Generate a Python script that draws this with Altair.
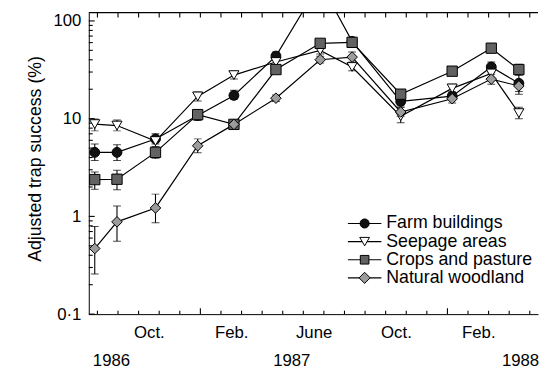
import math
import altair as alt
import pandas as pd

# ---------------- data ----------------
series = ["Farm buildings", "Seepage areas", "Crops and pasture", "Natural woodland"]
# sampling occasions, in months counted from 1 Jan 1987
months = [-5.13, -4.05, -2.18, -0.13, 1.63, 3.67, 5.82, 7.37, 9.73, 12.23, 14.13, 15.47]

farm = [4.52, 4.52, 6.2, 10.8, 17.3, 43.7, 246, 61.8, 15.0, 17.0, 33.8, 23.0]
farm_lo = [3.73, 3.73, 5.5, 9.6, 15.8, 40, 220, 56, 13.5, 15.5, 30, 17.8]
farm_hi = [5.5, 5.4, 7.0, 12.2, 19.5, 48, 275, 67, 16.8, 18.8, 38, 28]

seep = [8.8, 8.5, 5.9, 16.9, 27.9, 38, 49.9, 33.8, 10.6, 20.4, 29, 11.4]
seep_lo = [7.5, 7.5, 5.2, 15.2, 25.5, 35, 46, 31, 9.1, 18.5, 26.5, 10.0]
seep_hi = [9.9, 9.7, 6.6, 18.7, 30.5, 41, 54, 37, 12.0, 22.5, 31.5, 13.1]

crops = [2.38, 2.4, 4.52, 11.0, 8.74, 31.8, 59, 60.4, 17.8, 30.6, 52.6, 31.8]
crops_lo = [1.9, 1.87, 3.9, 10.0, 8.0, 29, 54, 55, 16.2, 28, 48, 28]
crops_hi = [2.85, 2.97, 5.0, 12.2, 9.6, 35, 64, 66, 19.5, 33.5, 57, 36]

wood = [0.469, 0.879, 1.22, 5.28, 8.74, 16.2, 40.1, 42.7, 11.7, 16.0, 25.4, 21.6]
wood_lo = [0.258, 0.556, 0.863, 4.49, 8.0, 15.0, 37, 38, 10.6, 14.5, 22.5, 19.0]
wood_hi = [0.787, 1.28, 1.69, 6.21, 9.6, 17.5, 43.5, 48, 13.0, 17.6, 28.5, 24.5]

month_label_pos = [-2.5, 1.5, 5.5, 9.5, 13.5]
month_labels = ["Oct.", "Feb.", "June", "Oct.", "Feb."]
year_labels = ["1986", "1987", "1988"]
year_label_pos = [-4.32, 4.44, 15.55]
y_tick_values = [0.1, 1, 10, 100]
y_tick_labels = ["0·1", "1", "10", "100"]
y_minor = [f * 10 ** e for e in (-1, 0, 1) for f in range(2, 10)]
month_ticks = list(range(-5, 17))
year_ticks = [0, 12]

# ---------------- styling ----------------
shapes = ["circle", "triangle-down", "square", "diamond"]
fills = ["#111111", "#ffffff", "#626262", "#9c9c9c"]
sizes = [100, 115, 90, 150]
FONT = "Liberation Sans"
W, H = 456, 306
XDOM = [-5.42, 16.4]
YDOM = [0.1, 121.5]
PX_MONTH = W / (XDOM[1] - XDOM[0])
PX_DEC = H / math.log10(YDOM[1] / YDOM[0])

vals = [farm, seep, crops, wood]
los = [farm_lo, seep_lo, crops_lo, wood_lo]
his = [farm_hi, seep_hi, crops_hi, wood_hi]
rows = []
for s, v, lo, hi in zip(series, vals, los, his):
    for m, a, b, c in zip(months, v, lo, hi):
        rows.append({"s": s, "m": m, "v": a, "lo": b, "hi": c})
df = pd.DataFrame(rows)

xscale = alt.Scale(domain=XDOM, nice=False, zero=False)
yscale = alt.Scale(type="log", domain=YDOM, nice=False)

xaxis = alt.Axis(
    values=month_label_pos,
    labelExpr="%s[indexof(%s, datum.value)]" % (str(month_labels), str(month_label_pos)),
    ticks=False, tickSize=0, grid=False, labelPadding=19, labelBaseline="middle",
    domainColor="black", domainWidth=1, labelFlush=False,
)
yaxis = alt.Axis(
    values=y_tick_values,
    labelExpr="%s[indexof(%s, datum.value)]" % (str(y_tick_labels), str(y_tick_values)),
    ticks=False, tickSize=0, grid=False, labelPadding=8,
    domainColor="black", domainWidth=1,
    titleX=-54, titleY=148, titleAngle=-90, titleAlign="center", titleBaseline="middle",
    labelFlush=False,
)
YTITLE = "Adjusted trap success (%)"


def X(f):
    return alt.X(f, type="quantitative", scale=xscale, axis=xaxis, title=None)


def Y(f):
    return alt.Y(f, type="quantitative", scale=yscale, axis=yaxis, title=YTITLE)


# inward axis ticks as one long table: tick lengths (px) converted to scale units
def xlen(px):
    return XDOM[0] + px / PX_MONTH


def yup(px):
    return YDOM[0] * 10 ** (px / PX_DEC)


def ydown(px):
    return YDOM[1] / 10 ** (px / PX_DEC)


vt = []  # vertical ticks: x, y0, y1
for t in month_ticks:
    vt.append({"x": t, "y0": YDOM[0], "y1": yup(6 if t in year_ticks else 3.5)})
    vt.append({"x": t, "y0": YDOM[1], "y1": ydown(5)})
ht = []  # horizontal ticks: y, x0, x1
for t in y_tick_values:
    ht.append({"y": t, "x0": XDOM[0], "x1": xlen(6)})
for t in y_minor:
    ht.append({"y": t, "x0": XDOM[0], "x1": xlen(4)})
ht.append({"y": YDOM[1], "x0": XDOM[0], "x1": XDOM[1]})  # top frame line

vticks = alt.Chart(pd.DataFrame(vt)).mark_rule(color="black", strokeWidth=1.1).encode(
    x=X("x"), y=Y("y0"), y2="y1"
)
hticks = alt.Chart(pd.DataFrame(ht)).mark_rule(color="black", strokeWidth=1.1).encode(
    y=Y("y"), x=X("x0"), x2="x1"
)

base = alt.Chart(df)
lines = base.mark_line(color="black", strokeWidth=1.2, clip=True).encode(
    x=X("m"), y=Y("v"), detail="s:N"
)
err = base.mark_rule(color="black", strokeWidth=1.1, clip=True).encode(
    x=X("m"), y=Y("lo"), y2="hi"
)
cap_lo = base.mark_tick(color="black", orient="horizontal", size=8, thickness=1, clip=True).encode(
    x=X("m"), y=Y("lo")
)
cap_hi = base.mark_tick(color="black", orient="horizontal", size=8, thickness=1, clip=True).encode(
    x=X("m"), y=Y("hi")
)
pts = base.mark_point(filled=True, stroke="black", strokeWidth=1, opacity=1, clip=True).encode(
    x=X("m"), y=Y("v"),
    shape=alt.Shape("s:N", scale=alt.Scale(domain=series, range=shapes), legend=None),
    fill=alt.Fill("s:N", scale=alt.Scale(domain=series, range=fills), legend=None),
    size=alt.Size("s:N", scale=alt.Scale(domain=series, range=sizes), legend=None),
)

years = alt.Chart(pd.DataFrame({"t": year_label_pos, "lab": year_labels})).mark_text(
    font=FONT, fontSize=17, color="black", baseline="middle", align="center"
).encode(x=X("t"), y=alt.value(354), text="lab:N")

# legend
legend_layers = []
ly0, dly = 214, 18.4
for i, s in enumerate(series):
    ly = ly0 + i * dly
    d = pd.DataFrame({"s": [s]})
    legend_layers.append(
        alt.Chart(d).mark_rule(color="black", strokeWidth=1.2).encode(
            x=alt.value(263), x2=alt.value(297), y=alt.value(ly)
        )
    )
    legend_layers.append(
        alt.Chart(d).mark_point(filled=True, shape=shapes[i], fill=fills[i], stroke="black",
                                strokeWidth=1, size=sizes[i] * 0.85, opacity=1).encode(
            x=alt.value(280), y=alt.value(ly)
        )
    )
    legend_layers.append(
        alt.Chart(d).mark_text(font=FONT, fontSize=18, color="black", align="left",
                               baseline="middle").encode(
            x=alt.value(302), y=alt.value(ly), text="s:N"
        )
    )

chart = alt.layer(
    vticks, hticks, lines, err, cap_lo, cap_hi, pts, years, *legend_layers
).properties(
    width=W, height=H,
    autosize=alt.AutoSizeParams(type="none"),
    padding={"left": 82, "top": 2, "right": 1, "bottom": 55},
).configure_view(stroke=None).configure_axis(
    labelFont=FONT, labelFontSize=17, labelColor="black",
    titleFont=FONT, titleFontSize=18, titleFontWeight="normal", titleColor="black",
)

chart.save("out.html", embed_options={"renderer": "svg", "actions": False})
